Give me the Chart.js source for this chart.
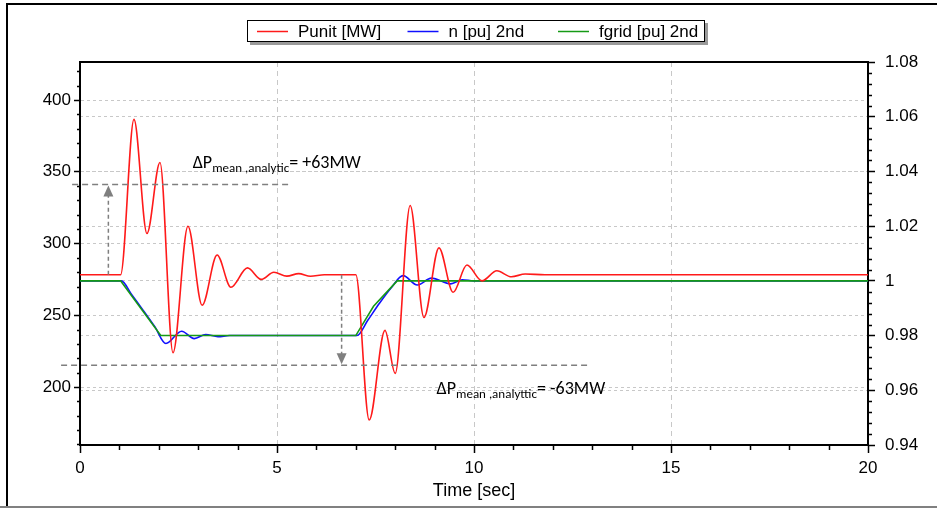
<!DOCTYPE html>
<html>
<head>
<meta charset="utf-8">
<script src="https://cdn.jsdelivr.net/npm/chart.js@4.4.1/dist/chart.umd.min.js"></script>
<style>
  html, body { margin: 0; padding: 0; background: #fff; }
  #wrap { width: 937px; height: 508px; }
</style>
</head>
<body>
<div id="wrap"><canvas id="chart" width="937" height="508"></canvas></div>
<script>
// values (time in seconds)
const punitTime = [0, 1.03, 1.37, 1.70, 2.03, 2.36, 2.74, 3.10, 3.48, 3.83, 4.25, 4.60, 4.92, 5.25, 5.55, 5.85, 6.2, 7.00,
  7.34, 7.74, 8.00, 8.38, 8.73, 9.11, 9.47, 9.82, 10.20, 10.58, 10.95, 11.3, 11.8, 20];
const punitMW = [278.2, 278.2, 386.5, 307, 356.5, 224, 312, 257, 292, 269.5, 283, 275, 280, 277.3, 279, 277.2, 278.2, 278.2,
  177, 239.5, 209.5, 326.5, 248.5, 297, 266, 285, 274, 281, 276.8, 278.8, 278.2, 278.2];

const nTime = [0, 1.05, 1.3, 1.6, 1.9, 2.18, 2.58, 2.9, 3.19, 3.5, 3.8, 7.03, 7.3, 7.6, 7.9, 8.2, 8.56, 8.92, 9.41, 9.7, 10.0, 20];
const nPu = [1.0, 1.0, 0.9952, 0.9893, 0.9832, 0.9771, 0.9816, 0.9789, 0.9804, 0.9796, 0.98, 0.98, 0.9855, 0.9918, 0.9975, 1.0019, 0.9985, 1.001, 0.9989, 1.0004, 1.0, 1.0];

const fgridTime = [0, 1.03, 2.05, 7.0, 7.45, 8.05, 20];
const fgridPu = [1.0, 1.0, 0.98, 0.98, 0.9907, 1.0, 1.0];

const xTicks = [0, 5, 10, 15, 20];
const leftTicks = [200, 250, 300, 350, 400];
const rightTicks = [0.94, 0.96, 0.98, 1.0, 1.02, 1.04, 1.06, 1.08];

const seriesLabels = ['Punit [MW]', 'n [pu] 2nd', 'fgrid [pu] 2nd'];
const seriesColors = ['#ff1a1a', '#1010ff', '#159a15'];

// annotation: mean power step, +/-63 MW around the initial level
const pInitial = 278.2;
const deltaP = 63;

const fontFamily = '"Liberation Sans", Arial, sans-serif';
const tickFont = { family: fontFamily, size: 17 };
const noteFont = '"Carlito", "Open Sans", "Liberation Sans", sans-serif';

function pts(xs, ys) {
  return xs.map((x, i) => ({ x: x, y: ys[i] }));
}

function gridColor(ctx, edges) {
  return edges.includes(+ctx.tick.value.toFixed(4)) ? 'rgba(0,0,0,0)' : '#c8c8c8';
}

// frame, minor ticks, top border, legend box and the analytic delta annotations
const decorPlugin = {
  id: 'decor',
  afterDraw(chart) {
    const ctx = chart.ctx;
    const a = chart.chartArea;
    const sx = chart.scales.x, sy = chart.scales.y, sr = chart.scales.y1;
    ctx.save();

    // outer picture frame
    ctx.fillStyle = '#000';
    ctx.fillRect(6, 3, 931, 2);
    ctx.fillRect(6, 3, 2, 503);
    ctx.fillStyle = '#808080';
    ctx.fillRect(0, 506, 937, 2);

    // top border of the plot
    ctx.strokeStyle = '#000';
    ctx.lineWidth = 2;
    ctx.beginPath();
    ctx.moveTo(a.left - 1, a.top);
    ctx.lineTo(a.right + 1, a.top);
    ctx.stroke();

    // minor ticks
    ctx.lineWidth = 1.5;
    ctx.beginPath();
    for (let t = 1; t < 20; t++) {
      if (t % 5 === 0) continue;
      const px = Math.round(sx.getPixelForValue(t)) + 0.5;
      ctx.moveTo(px, a.bottom);
      ctx.lineTo(px, a.bottom + 5);
    }
    for (let v = 160; v <= 420; v += 10) {
      if (v % 50 === 0) continue;
      const py = Math.round(sy.getPixelForValue(v)) + 0.5;
      ctx.moveTo(a.left - 3, py);
      ctx.lineTo(a.left, py);
    }
    for (let k = 0; k <= 35; k++) {
      if (k % 5 === 0) continue;
      const py = Math.round(sr.getPixelForValue(0.94 + k * 0.004)) + 0.5;
      ctx.moveTo(a.right, py);
      ctx.lineTo(a.right + 4, py);
    }
    ctx.stroke();

    // annotations
    const yBase = sy.getPixelForValue(pInitial);
    const yUp = sy.getPixelForValue(pInitial + deltaP);
    const yDown = sy.getPixelForValue(pInitial - deltaP);
    ctx.strokeStyle = '#7f7f7f';
    ctx.fillStyle = '#7f7f7f';
    ctx.lineWidth = 1.5;
    ctx.setLineDash([6, 4]);
    ctx.beginPath();
    ctx.moveTo(sx.getPixelForValue(-0.2), yUp);
    ctx.lineTo(sx.getPixelForValue(5.3), yUp);
    ctx.moveTo(sx.getPixelForValue(-0.48), yDown);
    ctx.lineTo(sx.getPixelForValue(12.87), yDown);
    ctx.stroke();

    const arrow = (t, y0, y1) => {
      const px = sx.getPixelForValue(t);
      const dir = y1 < y0 ? 1 : -1;
      ctx.setLineDash([4, 3]);
      ctx.beginPath();
      ctx.moveTo(px, y0);
      ctx.lineTo(px, y1 + dir * 10);
      ctx.stroke();
      ctx.setLineDash([]);
      ctx.beginPath();
      ctx.moveTo(px, y1);
      ctx.lineTo(px - 5, y1 + dir * 11);
      ctx.lineTo(px + 5, y1 + dir * 11);
      ctx.closePath();
      ctx.fill();
    };
    arrow(0.72, yBase, yUp + 1);
    arrow(6.64, yBase, yDown - 1);

    const note = (x, yb, sub, tail) => {
      ctx.fillStyle = '#000';
      ctx.textBaseline = 'alphabetic';
      ctx.textAlign = 'left';
      ctx.font = '18px ' + noteFont;
      ctx.fillText('\u0394P', x, yb);
      let w = ctx.measureText('\u0394P').width;
      ctx.font = '13px ' + noteFont;
      ctx.fillText(sub, x + w, yb + 4);
      w += ctx.measureText(sub).width;
      ctx.font = '18px ' + noteFont;
      ctx.fillText(tail, x + w, yb);
    };
    note(sx.getPixelForValue(2.86), yUp - 16, 'mean ,analytic', '= +63MW');
    note(sx.getPixelForValue(9.05), yDown + 29, 'mean ,analyttic', '= -63MW');

    // legend box
    const lx = 247, ly = 20, lw = 458, lh = 22;
    ctx.fillStyle = '#9a9a9a';
    ctx.fillRect(lx + 3, ly + 3, lw, lh);
    ctx.fillStyle = '#fff';
    ctx.fillRect(lx, ly, lw, lh);
    ctx.strokeStyle = '#000';
    ctx.lineWidth = 1;
    ctx.strokeRect(lx + 0.5, ly + 0.5, lw - 1, lh - 1);
    ctx.font = '17px ' + fontFamily;
    ctx.textBaseline = 'middle';
    chart.data.datasets.forEach((ds, i) => {
      const x0 = 257 + i * 150.5;
      ctx.strokeStyle = ds.borderColor;
      ctx.lineWidth = 1.5;
      ctx.beginPath();
      ctx.moveTo(x0, ly + 11.5);
      ctx.lineTo(x0 + 31, ly + 11.5);
      ctx.stroke();
      ctx.fillStyle = '#000';
      ctx.fillText(ds.label, x0 + 41, ly + 12);
    });
    ctx.restore();
  }
};

new Chart(document.getElementById('chart'), {
  type: 'line',
  data: {
    datasets: [
      {
        label: seriesLabels[0], data: pts(punitTime, punitMW), yAxisID: 'y',
        borderColor: seriesColors[0], borderWidth: 1.6, pointRadius: 0,
        cubicInterpolationMode: 'monotone', order: 0
      },
      {
        label: seriesLabels[1], data: pts(nTime, nPu), yAxisID: 'y1',
        borderColor: seriesColors[1], borderWidth: 1.6, pointRadius: 0,
        cubicInterpolationMode: 'monotone', order: 2
      },
      {
        label: seriesLabels[2], data: pts(fgridTime, fgridPu), yAxisID: 'y1',
        borderColor: seriesColors[2], borderWidth: 1.6, pointRadius: 0,
        tension: 0, order: 1
      }
    ]
  },
  options: {
    responsive: false,
    animation: false,
    devicePixelRatio: 1,
    layout: { padding: { top: 62, left: 0, right: 0, bottom: 0 } },
    plugins: { legend: { display: false }, tooltip: { enabled: false } },
    scales: {
      x: {
        type: 'linear', min: 0, max: 20,
        afterBuildTicks: (s) => { s.ticks = xTicks.map(v => ({ value: v })); },
        afterFit: (s) => { s.height = 63; },
        ticks: { font: tickFont, color: '#000', padding: 5, maxRotation: 0 },
        grid: {
          color: (c) => gridColor(c, [0, 20]), lineWidth: 1,
          tickLength: 8, tickColor: '#000', tickWidth: 1.5
        },
        border: { color: '#000', width: 2, dash: [5, 4] },
        title: { display: true, text: 'Time [sec]', font: { family: fontFamily, size: 18 }, color: '#000', padding: { top: 2, bottom: 6 } }
      },
      y: {
        position: 'left', min: 159.6, max: 426.5,
        afterBuildTicks: (s) => { s.ticks = leftTicks.map(v => ({ value: v })); },
        afterFit: (s) => { s.width = 80; },
        ticks: { font: tickFont, color: '#000', padding: 3 },
        grid: { color: '#c8c8c8', lineWidth: 1, tickLength: 6, tickColor: '#000', tickWidth: 1.5 },
        border: { color: '#000', width: 2, dash: [3, 3] }
      },
      y1: {
        position: 'right', min: 0.94, max: 1.08,
        afterBuildTicks: (s) => { s.ticks = rightTicks.map(v => ({ value: v })); },
        afterFit: (s) => { s.width = 69; },
        ticks: { font: tickFont, color: '#000', padding: 10, callback: (v) => String(+v.toFixed(2)) },
        grid: {
          color: (c) => gridColor(c, [0.94, 1.08]), lineWidth: 1,
          tickLength: 7, tickColor: '#000', tickWidth: 1.5
        },
        border: { color: '#000', width: 2, dash: [3, 3] }
      }
    }
  },
  plugins: [decorPlugin]
});
</script>
</body>
</html>
